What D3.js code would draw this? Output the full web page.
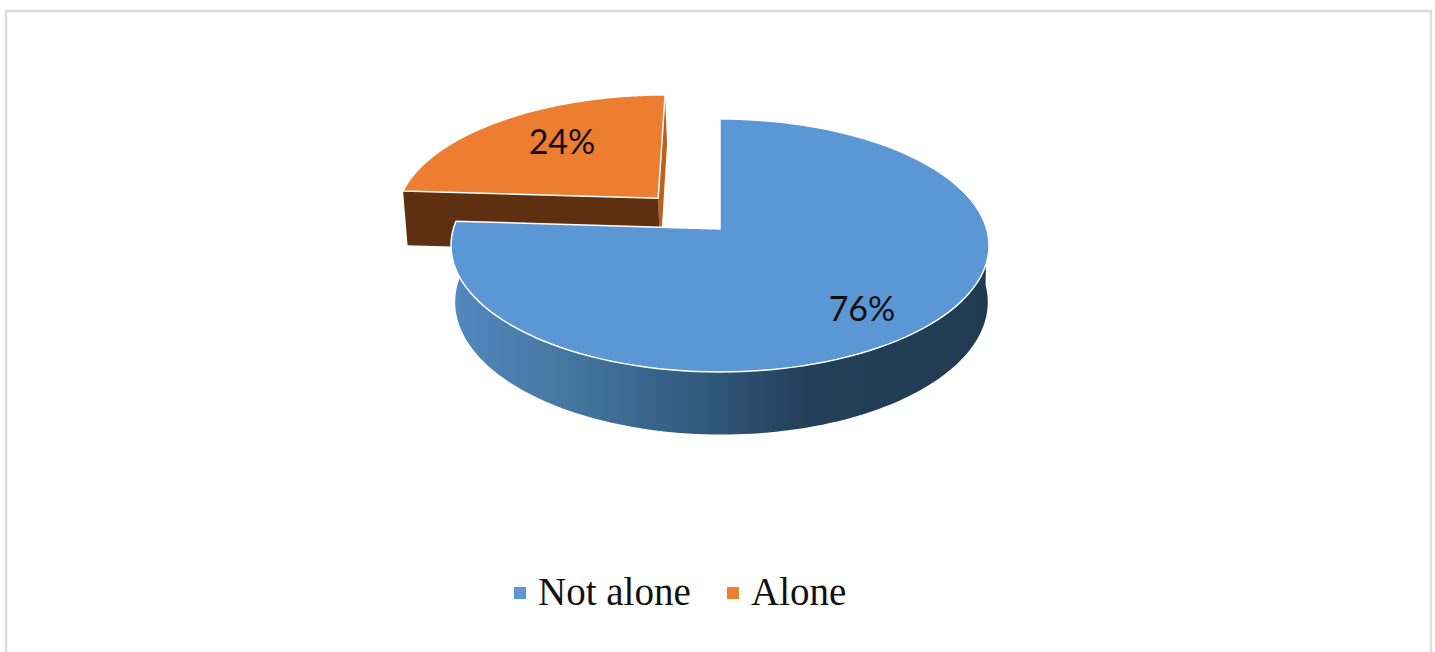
<!DOCTYPE html>
<html>
<head>
<meta charset="utf-8">
<script src="https://cdn.jsdelivr.net/npm/d3@7"></script>
<style>
html,body{margin:0;padding:0;background:#fff;overflow:hidden}
svg{display:block}
</style>
</head>
<body>
<svg id="chart" width="1435" height="652"></svg>
<script>
const categories = ["Not alone", "Alone"];
const values = [76, 24];
const labels = ["76%", "24%"];
const topColors = ["#5b97d5", "#ed7d31"];
const legendX = [514, 727];
const legendTextX = [538, 751];

const svg = d3.select("#chart");
const W = 1435, H = 652;

// perspective parameters
const apex = {x: 720, y: 229};
const ax = 266.7, ay = 124.3, k = 0.1304, depth = 56.5, kz = 0.01, shiftZ = 1.5;
const explode = 0.35;

const pie = d3.pie().sort(null).value(d => d)(values);
const slices = pie.map((p, i) => {
  const mid = (p.startAngle + p.endAngle) / 2;
  const off = i === 1 ? explode : 0;
  return {...p, i, dx: off * Math.sin(mid), dy: off * Math.cos(mid)};
});

function project(X, Y, z) {
  const w = 1 + k * Y + kz * z;
  return [apex.x + ax * X / w + shiftZ * z, apex.y - (ay * Y - depth * z) / w];
}
function rimPt(s, a, z) {
  return project(s.dx + Math.sin(a), s.dy + Math.cos(a), z);
}
function apexPt(s, z) {
  return project(s.dx, s.dy, z);
}
function rimRange(s, a0, a1, z) {
  const t = d3.scaleLinear().domain([0, 120]).range([a0, a1]);
  return d3.range(121).map(i => rimPt(s, t(i), z));
}
const line = d3.line().curve(d3.curveLinear);
const closed = pts => line(pts) + "Z";

// frame
svg.append("path")
  .attr("d", d3.line()([[6, H], [6, 11], [1431, 11], [1431, H]]))
  .attr("fill", "none").attr("stroke", "#dcdcdc").attr("stroke-width", 2.5);

// gradient for blue wall
const defs = svg.append("defs");
const grad = defs.append("linearGradient").attr("id", "wall")
  .attr("gradientUnits", "userSpaceOnUse")
  .attr("x1", 452).attr("x2", 989).attr("y1", 0).attr("y2", 0);
[[0, "#5288bf"], [0.22, "#45769f"], [0.46, "#315a7e"], [0.66, "#243f59"], [1, "#203a52"]]
  .forEach(([o, c]) => grad.append("stop").attr("offset", o).attr("stop-color", c));

const blue = slices[0], orange = slices[1];

// orange walls
svg.append("path")
  .attr("d", closed([apexPt(orange, 0), rimPt(orange, orange.endAngle, 0), rimPt(orange, orange.endAngle, 1), apexPt(orange, 1)]))
  .attr("fill", "#b9621f");
svg.append("path")
  .attr("d", closed([rimPt(orange, orange.startAngle, 0), apexPt(orange, 0), apexPt(orange, 1), rimPt(orange, orange.startAngle, 1)]))
  .attr("fill", "#5e2f10");
// orange top
svg.append("path")
  .attr("d", closed([apexPt(orange, 0), ...rimRange(orange, orange.startAngle, orange.endAngle, 0)]))
  .attr("fill", topColors[1]).attr("stroke", "#fff").attr("stroke-width", 1.5).attr("stroke-linejoin", "round");

// blue wall
svg.append("path")
  .attr("d", closed([...rimRange(blue, Math.PI / 2, blue.endAngle, 0),
                     ...rimRange(blue, blue.endAngle, Math.PI / 2, 1)]))
  .attr("fill", "url(#wall)");
// blue top
svg.append("path")
  .attr("d", closed([apexPt(blue, 0), ...rimRange(blue, blue.startAngle, blue.endAngle, 0)]))
  .attr("fill", topColors[0]).attr("stroke", "#fff").attr("stroke-width", 1.5).attr("stroke-linejoin", "round");

// data labels
const labelPos = [[862, 307], [562, 140]];
svg.selectAll("text.lab").data(labels).join("text")
  .attr("class", "lab")
  .attr("x", (d, i) => labelPos[i][0])
  .attr("y", (d, i) => labelPos[i][1])
  .attr("text-anchor", "middle").attr("dominant-baseline", "central")
  .attr("font-family", "Lato, Carlito, sans-serif").attr("font-size", 34)
  .attr("fill", "#111").text(d => d);

// legend
svg.selectAll("rect.leg").data(categories).join("rect")
  .attr("class", "leg")
  .attr("x", (d, i) => legendX[i]).attr("y", 587).attr("width", 12).attr("height", 12)
  .attr("fill", (d, i) => topColors[i]);
svg.selectAll("text.leg").data(categories).join("text")
  .attr("class", "leg")
  .attr("x", (d, i) => legendTextX[i]).attr("y", 605)
  .attr("font-family", "'Liberation Serif', serif").attr("font-size", 39)
  .attr("fill", "#111").text(d => d);
</script>
</body>
</html>
